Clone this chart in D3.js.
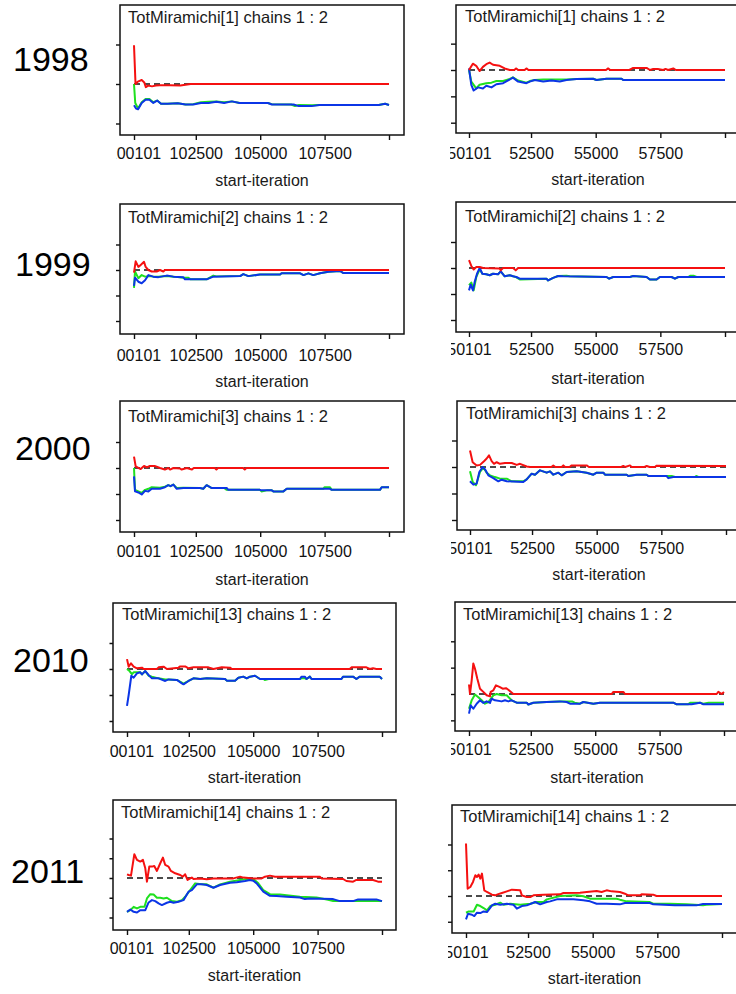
<!DOCTYPE html>
<html>
<head>
<meta charset="utf-8">
<script src="https://cdn.jsdelivr.net/npm/d3@7"></script>
<style>
  body { margin: 0; background: #fff; }
  svg { display: block; }
  text { font-family: Arial, "Liberation Sans", sans-serif; }
</style>
</head>
<body>
<svg id="chart" width="736" height="994"></svg>
<script>
// Brooks-Gelman-Rubin convergence traces for TotMiramichi, two runs per year.
const years = ["1998", "1999", "2000", "2010", "2011"];
const nodeNames = ["TotMiramichi[1]", "TotMiramichi[2]", "TotMiramichi[3]", "TotMiramichi[13]", "TotMiramichi[14]"];
const chainsLabel = "chains 1 : 2";
const xAxisTitle = "start-iteration";

// iteration ranges of the two runs and their tick values
const runA = [100101, 110000];
const runB = [50101, 60000];
const ticksA = [100101, 102500, 105000, 107500, 110000];
const ticksB = [50101, 52500, 55000, 57500, 60000];

// ---- 1998 ----
const r98a = [[100101,1.49],[100160,1.0],[100250,1.03],[100400,1.05],[100500,1.02],[100560,0.96],[100650,0.98],[100800,0.97],[100950,0.98],[101100,0.985],[101500,0.985],[101900,0.98],[102100,0.99],[102300,1.0],[110000,1.0]];
const g98a = [[100101,1.0],[100150,0.76],[100260,0.69],[100400,0.77],[100550,0.81],[100700,0.81],[100850,0.77],[101000,0.79],[101150,0.75],[101400,0.75],[101800,0.755],[102100,0.74],[102400,0.745],[102700,0.77],[103000,0.775],[103300,0.78],[103600,0.77],[103900,0.78],[104200,0.76],[105300,0.76],[105450,0.745],[106200,0.74],[106350,0.72],[106500,0.735],[107000,0.73],[107300,0.735],[109600,0.735],[109850,0.75],[110000,0.735]];
const b98a = [[100101,0.73],[100180,0.69],[100260,0.68],[100400,0.76],[100550,0.80],[100700,0.80],[100850,0.76],[101000,0.79],[101150,0.75],[101400,0.75],[101800,0.755],[102100,0.74],[102400,0.74],[102700,0.76],[103000,0.76],[103300,0.775],[103600,0.76],[103900,0.78],[104200,0.76],[105300,0.76],[105450,0.74],[106300,0.74],[106500,0.72],[107000,0.72],[107300,0.735],[109600,0.735],[109850,0.75],[110000,0.735]];
const r98b = [[50101,1.0],[50250,1.12],[50380,1.08],[50510,0.98],[50640,1.06],[50770,1.11],[50900,1.14],[51030,1.10],[51290,1.08],[51480,1.03],[51680,1.0],[51850,1.0],[51930,1.03],[52000,1.0],[52250,1.0],[52320,1.03],[52400,1.0],[55400,1.0],[55480,1.03],[55560,1.0],[56300,1.0],[56450,1.04],[56967,1.04],[57100,1.0],[57225,1.02],[57400,1.02],[57612,1.0],[57700,1.02],[57800,1.0],[58000,1.03],[58100,1.0],[60000,1.0]];
const g98b = [[50101,1.0],[50190,0.78],[50380,0.65],[50510,0.72],[50770,0.75],[50970,0.76],[51160,0.79],[51420,0.79],[51680,0.83],[51800,0.86],[52000,0.80],[52320,0.76],[52450,0.79],[52640,0.81],[52970,0.82],[53290,0.82],[53610,0.82],[53870,0.82],[54260,0.83],[54900,0.835],[55030,0.81],[55420,0.835],[56000,0.835],[56065,0.81],[60000,0.81]];
const b98b = [[50101,1.03],[50190,0.72],[50280,0.61],[50450,0.67],[50640,0.65],[50770,0.70],[50970,0.67],[51160,0.73],[51420,0.75],[51680,0.82],[51800,0.855],[52000,0.78],[52320,0.75],[52450,0.78],[52640,0.81],[52970,0.78],[53290,0.80],[53610,0.78],[53870,0.81],[54260,0.83],[54900,0.835],[55030,0.81],[55420,0.835],[56000,0.835],[56065,0.81],[60000,0.81]];

// ---- 1999 ----
const r99a = [[100101,0.95],[100166,1.17],[100270,1.06],[100360,1.10],[100490,1.16],[100554,1.06],[100657,1.0],[100787,0.97],[100981,0.97],[101110,1.0],[101240,0.97],[101300,1.0],[110000,1.0]];
const g99a = [[100101,0.65],[100140,0.97],[100270,0.84],[100400,0.90],[100530,0.87],[100660,0.88],[100850,0.87],[101050,0.87],[101370,0.88],[101630,0.87],[102020,0.85],[102200,0.85],[102300,0.817],[102920,0.817],[103180,0.89],[103300,0.875],[104220,0.88],[104345,0.92],[104540,0.88],[104990,0.91],[105770,0.91],[105830,0.935],[106550,0.935],[106680,0.90],[106870,0.935],[107060,0.90],[107320,0.935],[107650,0.967],[108100,0.98],[108230,0.94],[110000,0.94]];
const b99a = [[100101,0.69],[100140,0.85],[100270,0.77],[100400,0.74],[100530,0.80],[100660,0.90],[100850,0.87],[101050,0.86],[101370,0.89],[101630,0.87],[102020,0.856],[102080,0.817],[102920,0.817],[103180,0.87],[104220,0.88],[104345,0.92],[104540,0.88],[104990,0.91],[105770,0.91],[105830,0.935],[106550,0.935],[106680,0.90],[106870,0.935],[107060,0.90],[107320,0.935],[107650,0.967],[108100,0.98],[108230,0.94],[110000,0.94]];
const r99b = [[50101,1.15],[50190,1.04],[50280,0.97],[50385,1.02],[50514,1.02],[50643,1.0],[51288,0.99],[51327,0.955],[51417,1.0],[51805,1.0],[51908,0.955],[51998,1.0],[60000,1.0]];
const g99b = [[50101,0.67],[50191,0.72],[50282,0.57],[50385,0.83],[50514,0.975],[50617,0.89],[50772,0.88],[50901,0.86],[51030,0.89],[51224,0.88],[51327,0.935],[51482,0.84],[51676,0.86],[51805,0.84],[51934,0.82],[52063,0.78],[53096,0.795],[53160,0.76],[53354,0.81],[53547,0.846],[53870,0.85],[54000,0.84],[55418,0.827],[55521,0.795],[55676,0.827],[56321,0.827],[56450,0.846],[56967,0.827],[57096,0.78],[57354,0.78],[57483,0.827],[57935,0.827],[58064,0.795],[58193,0.827],[58580,0.827],[58650,0.85],[58800,0.85],[58900,0.827],[60000,0.827]];
const b99b = [[50101,0.57],[50166,0.68],[50256,0.57],[50320,0.73],[50411,0.89],[50514,1.0],[50617,0.89],[50772,0.88],[50901,0.86],[51030,0.89],[51224,0.88],[51327,0.935],[51482,0.84],[51676,0.86],[51805,0.84],[51934,0.827],[52063,0.795],[53096,0.795],[53160,0.76],[53354,0.81],[53547,0.846],[53741,0.84],[55418,0.827],[55521,0.795],[55676,0.827],[56321,0.827],[56450,0.846],[56967,0.827],[57096,0.78],[57354,0.78],[57483,0.827],[57935,0.827],[58064,0.795],[58193,0.827],[60000,0.827]];

// ---- 2000 ----
const r00a = [[100101,1.22],[100166,1.03],[100360,0.98],[100490,1.04],[100600,1.01],[100720,1.04],[100900,1.04],[101110,1.0],[101300,0.97],[101430,1.0],[101500,0.97],[101630,1.0],[101890,0.99],[101950,0.97],[102150,1.0],[102350,0.97],[102420,1.0],[103240,1.0],[103300,0.97],[103360,1.0],[104340,1.0],[104400,0.97],[104460,1.0],[110000,1.0]];
const g00a = [[100101,1.0],[100140,0.58],[100270,0.55],[100400,0.52],[100530,0.58],[100660,0.60],[100790,0.63],[101110,0.62],[101300,0.64],[101430,0.67],[101520,0.65],[101630,0.68],[101760,0.615],[102020,0.62],[102660,0.615],[102790,0.60],[102920,0.67],[103120,0.615],[103600,0.615],[103700,0.58],[104990,0.58],[105050,0.55],[105250,0.57],[105450,0.57],[105510,0.55],[105900,0.55],[106030,0.60],[107450,0.60],[107500,0.63],[107710,0.63],[107775,0.58],[109650,0.58],[109716,0.63],[110000,0.63]];
const b00a = [[100101,0.84],[100140,0.55],[100270,0.53],[100400,0.49],[100530,0.56],[100660,0.55],[100790,0.60],[101110,0.60],[101300,0.63],[101430,0.67],[101520,0.65],[101630,0.68],[101760,0.60],[102020,0.615],[102660,0.615],[102790,0.60],[102920,0.67],[103120,0.615],[103700,0.615],[103760,0.58],[104990,0.58],[105050,0.57],[105450,0.57],[105510,0.55],[105900,0.55],[106030,0.60],[107710,0.60],[107775,0.58],[109650,0.58],[109716,0.63],[110000,0.63]];
const r00b = [[50101,1.31],[50204,1.09],[50359,1.03],[50488,1.04],[50642,1.11],[50746,1.16],[50836,1.22],[50939,1.11],[51029,1.06],[51132,1.09],[51261,1.06],[51454,1.075],[51712,1.075],[51906,1.04],[52034,1.06],[52292,1.01],[52421,1.0],[53250,1.0],[53323,1.03],[53400,1.0],[53650,1.0],[53710,1.03],[53780,1.0],[53950,1.0],[54032,1.03],[54612,1.03],[54700,1.0],[55950,1.0],[56030,1.02],[56100,1.0],[56288,1.03],[56350,1.0],[56850,1.0],[56933,1.02],[57050,1.0],[57250,1.0],[57319,1.025],[60000,1.02]];
const g00b = [[50101,0.92],[50204,0.72],[50333,0.655],[50488,0.906],[50617,0.99],[50746,0.893],[50875,0.843],[51068,0.81],[51261,0.78],[51519,0.78],[51712,0.73],[52163,0.73],[52292,0.767],[52486,0.874],[52614,0.855],[52808,0.937],[53066,0.893],[53195,0.918],[53323,0.855],[53517,0.893],[53646,0.843],[53839,0.906],[54226,0.918],[54612,0.893],[54870,0.855],[54999,0.893],[55257,0.893],[55321,0.855],[56159,0.855],[56223,0.83],[56546,0.855],[56933,0.855],[56997,0.83],[57706,0.83],[57900,0.83],[58030,0.81],[58800,0.81],[58850,0.83],[58950,0.81],[60000,0.81]];
const b00b = [[50101,0.73],[50230,0.667],[50359,0.686],[50462,0.906],[50591,1.0],[50681,0.956],[50810,0.843],[51003,0.79],[51197,0.73],[51325,0.76],[51519,0.73],[52163,0.717],[52292,0.767],[52486,0.874],[52614,0.855],[52808,0.937],[53066,0.893],[53195,0.918],[53323,0.855],[53517,0.893],[53646,0.843],[53839,0.906],[54226,0.918],[54612,0.893],[54870,0.855],[54999,0.893],[55257,0.893],[55321,0.855],[56159,0.855],[56223,0.83],[56546,0.855],[56933,0.855],[56997,0.83],[57706,0.83],[57770,0.79],[57964,0.81],[60000,0.81]];

// ---- 2010 ----
const r10a = [[100101,1.19],[100166,1.045],[100256,1.11],[100359,1.045],[100488,1.013],[100682,1.026],[100746,1.0],[101263,1.0],[101327,1.032],[101521,1.045],[101650,1.0],[102101,1.026],[102166,1.05],[102360,1.05],[102489,1.013],[102682,1.032],[103263,1.032],[103457,1.0],[103780,1.032],[104102,1.026],[104167,1.0],[108748,1.0],[108813,1.032],[109394,1.032],[109523,1.0],[109652,1.013],[109781,1.0],[110000,1.0]];
const g10a = [[100101,1.0],[100200,0.96],[100290,0.90],[100359,0.936],[100617,0.936],[100682,0.897],[100811,0.96],[100940,0.87],[101069,0.85],[101327,0.82],[101585,0.80],[101714,0.80],[102037,0.79],[102230,0.74],[102295,0.72],[102489,0.77],[102682,0.82],[102940,0.808],[103198,0.82],[103908,0.808],[103973,0.776],[104295,0.776],[104424,0.833],[104618,0.853],[104747,0.82],[104876,0.853],[105070,0.87],[105263,0.808],[105400,0.808],[105450,0.79],[105600,0.808],[106812,0.808],[106877,0.82],[107006,0.82],[107070,0.808],[107200,0.853],[107264,0.808],[108425,0.808],[108490,0.853],[108877,0.853],[109006,0.808],[109135,0.853],[109910,0.853],[110000,0.808]];
const b10a = [[100101,0.29],[100166,0.50],[100269,0.87],[100359,0.833],[100488,0.917],[100617,0.936],[100682,0.897],[100811,0.96],[100940,0.885],[101069,0.82],[101327,0.82],[101585,0.77],[101714,0.80],[102037,0.79],[102230,0.724],[102295,0.705],[102489,0.77],[102682,0.82],[102940,0.808],[103198,0.82],[103908,0.808],[103973,0.776],[104295,0.776],[104424,0.833],[104618,0.853],[104747,0.82],[104876,0.853],[105070,0.87],[105263,0.808],[106812,0.808],[106877,0.853],[107006,0.853],[107070,0.808],[107200,0.853],[107264,0.808],[108425,0.808],[108490,0.853],[108877,0.853],[109006,0.808],[109135,0.853],[109910,0.853],[110000,0.808]];
const r10b = [[50101,1.18],[50140,1.0],[50205,1.26],[50269,1.58],[50334,1.48],[50424,1.29],[50528,1.10],[50657,1.04],[50787,0.975],[50916,0.955],[50942,1.04],[51046,1.07],[51149,1.165],[51304,1.13],[51408,1.10],[51537,1.11],[51628,1.08],[51822,1.0],[55639,1.0],[55704,1.04],[56092,1.04],[56157,1.0],[59715,1.0],[59780,1.04],[59910,1.0],[60000,1.04]];
const g10b = [[50101,0.72],[50205,0.88],[50334,0.99],[50463,0.94],[50593,0.88],[50722,0.816],[50851,0.848],[51046,0.975],[51175,1.0],[51369,0.975],[51563,0.975],[51757,0.88],[51951,0.835],[52340,0.835],[52404,0.80],[52598,0.835],[53116,0.848],[53634,0.86],[54100,0.86],[54200,0.835],[54410,0.816],[54539,0.848],[54927,0.816],[55186,0.835],[58033,0.835],[58162,0.804],[58600,0.804],[58700,0.835],[59068,0.835],[59197,0.815],[59400,0.835],[60000,0.835]];
const b10b = [[50101,0.627],[50166,0.785],[50269,0.72],[50399,0.816],[50528,0.88],[50657,0.83],[50787,0.86],[50916,0.83],[50981,0.91],[51110,0.88],[51369,0.86],[51498,0.88],[51628,0.86],[51757,0.88],[51951,0.835],[52340,0.835],[52404,0.80],[52598,0.835],[53116,0.848],[53634,0.86],[53892,0.848],[54022,0.816],[54410,0.816],[54539,0.848],[54927,0.816],[55186,0.835],[58033,0.835],[58162,0.804],[58744,0.804],[59068,0.835],[59197,0.804],[60000,0.804]];

// ---- 2011 ----
const r11a = [[100101,1.093],[100166,1.076],[100256,1.06],[100385,1.60],[100488,1.458],[100617,1.415],[100720,1.458],[100811,1.246],[100875,0.907],[100966,1.288],[101069,1.288],[101159,1.305],[101263,1.178],[101392,1.373],[101495,1.517],[101585,1.33],[101714,1.288],[101805,1.178],[101972,1.119],[102166,1.076],[102269,1.034],[102360,1.093],[102450,0.95],[102618,1.01],[102682,0.975],[102940,0.99],[103198,0.966],[103457,0.99],[104231,0.99],[104489,1.034],[104618,1.01],[105005,0.99],[105328,0.99],[105457,1.034],[105650,1.06],[105844,1.034],[107586,1.034],[107650,0.99],[108490,0.975],[108619,0.924],[108877,0.907],[109006,0.95],[109652,0.95],[109845,0.907],[110000,0.907]];
const g11a = [[100101,0.144],[100230,0.186],[100359,0.27],[100488,0.229],[100617,0.27],[100780,0.27],[100875,0.483],[101005,0.59],[101134,0.58],[101263,0.5],[101392,0.5],[101521,0.483],[101650,0.5],[101843,0.415],[102037,0.398],[102230,0.44],[102360,0.525],[102553,0.695],[102747,0.864],[103005,0.839],[103198,0.839],[103457,0.754],[103715,0.839],[104102,0.907],[104489,0.949],[104747,0.975],[105005,0.975],[105198,0.864],[105392,0.695],[105650,0.59],[106038,0.58],[106812,0.525],[107457,0.508],[107909,0.449],[108103,0.415],[108877,0.415],[109910,0.415],[110000,0.415]];
const b11a = [[100101,0.144],[100230,0.203],[100359,0.144],[100488,0.127],[100617,0.186],[100811,0.186],[100940,0.381],[101069,0.44],[101198,0.415],[101327,0.356],[101456,0.314],[101650,0.373],[101779,0.398],[101908,0.373],[102101,0.398],[102295,0.44],[102489,0.653],[102618,0.695],[102811,0.839],[103005,0.839],[103198,0.822],[103457,0.754],[103715,0.822],[104102,0.881],[104360,0.89],[104683,0.924],[104876,0.949],[105005,0.932],[105134,0.864],[105392,0.653],[105650,0.55],[105909,0.542],[106296,0.525],[106812,0.508],[107006,0.466],[107200,0.483],[108103,0.466],[108361,0.415],[108877,0.415],[109071,0.458],[109781,0.458],[110000,0.415]];
const r11b = [[50101,2.02],[50165,1.143],[50268,1.175],[50371,1.273],[50461,1.403],[50525,1.37],[50590,1.416],[50654,1.338],[50718,1.435],[50808,1.11],[50911,1.078],[51104,1.026],[51232,1.013],[51322,1.032],[51489,1.058],[51682,1.09],[51875,1.123],[52197,1.11],[52261,1.013],[52454,0.98],[52583,0.98],[52711,1.013],[53097,1.026],[53739,1.032],[53868,1.058],[54511,1.065],[54768,1.078],[55153,1.097],[55346,1.078],[55539,1.11],[55732,1.09],[56053,1.078],[56246,1.045],[56375,1.013],[56825,1.013],[56889,1.032],[57339,1.026],[57468,1.0],[60000,1.0]];
const g11b = [[50101,0.675],[50204,0.70],[50397,0.70],[50525,0.83],[50654,0.805],[50782,0.766],[50911,0.72],[51039,0.805],[51232,0.83],[51425,0.87],[51554,0.83],[51810,0.85],[52197,0.83],[52583,0.85],[52840,0.883],[53097,0.883],[53225,0.935],[53739,1.0],[54382,1.013],[54639,0.994],[54896,0.948],[55925,0.948],[56053,0.929],[56310,0.896],[57210,0.883],[57339,0.85],[57982,0.85],[58625,0.838],[59267,0.818],[59396,0.83],[60000,0.844]];
const b11b = [[50101,0.545],[50178,0.656],[50332,0.636],[50422,0.61],[50525,0.675],[50654,0.669],[50782,0.70],[50911,0.688],[51014,0.753],[51104,0.818],[51232,0.85],[51425,0.83],[51682,0.85],[51939,0.83],[52068,0.753],[52261,0.805],[52454,0.818],[52775,0.883],[52968,0.838],[53225,0.883],[53354,0.896],[53611,0.935],[54254,0.935],[54639,0.916],[54896,0.896],[55153,0.85],[55539,0.85],[56053,0.838],[56246,0.864],[57210,0.864],[57339,0.838],[58175,0.818],[59010,0.818],[59267,0.844],[60000,0.844]];

// Panel placement on the page (frame box, x-range, y reference, clip window)
const panels = [
  {row:0, run:"A", frame:[120,5,404,135], xr:[134,389], y1:84,  k:79,   yt:[0.5,1,1.5],     title:[128,23],  tl:159, at:186, clip:[116,0,420,195],   red:r98a, green:g98a, blue:b98a},
  {row:0, run:"B", frame:[456,5,740,133], xr:[469,725], y1:70,  k:52.7, yt:[0,0.5,1,1.5],   title:[465,22],  tl:159, at:185, clip:[450,0,736,195],   red:r98b, green:g98b, blue:b98b},
  {row:1, run:"A", frame:[120,204,404,334], xr:[134,389], y1:270, k:51, yt:[0,0.5,1,1.5],   title:[128,223], tl:361, at:387, clip:[116,195,420,395], red:r99a, green:g99a, blue:b99a},
  {row:1, run:"B", frame:[456,202,740,332], xr:[469,725], y1:268, k:52, yt:[0,0.5,1,1.5],   title:[465,222], tl:355, at:384, clip:[451,195,736,395], red:r99b, green:g99b, blue:b99b},
  {row:2, run:"A", frame:[120,401,404,532], xr:[134,389], y1:468, k:52, yt:[0,0.5,1,1.5],   title:[128,422], tl:557, at:585, clip:[116,395,420,595], red:r00a, green:g00a, blue:b00a},
  {row:2, run:"B", frame:[457,401,741,530], xr:[470,726], y1:467, k:53, yt:[0,0.5,1,1.5],   title:[466,419], tl:554, at:580, clip:[451,395,736,581], red:r00b, green:g00b, blue:b00b},
  {row:3, run:"A", frame:[113,603,396,732], xr:[127,382], y1:669, k:52, yt:[0,0.5,1,1.5],   title:[122,620], tl:757, at:783, clip:[109.5,595,420,795], red:r10a, green:g10a, blue:b10a},
  {row:3, run:"B", frame:[455,602,739,731], xr:[469,724], y1:694, k:52.7, yt:[0.5,1,1.5,2], title:[463,620], tl:755, at:783, clip:[451,595,736,795], red:r10b, green:g10b, blue:b10b},
  {row:4, run:"A", frame:[113,800,396,930], xr:[127,382], y1:878, k:39.5, yt:[0,0.5,1,1.5,2], title:[121,818], tl:954, at:981, clip:[109.5,795,420,994], red:r11a, green:g11a, blue:b11a},
  {row:4, run:"B", frame:[452,805,737,933], xr:[466,722], y1:896, k:51.5, yt:[0.5,1,1.5,2], title:[460,822], tl:958, at:984, clip:[448,795,736,994], red:r11b, green:g11b, blue:b11b}
];
const yearPos = [[13,71],[15,276],[15,460],[13,672],[11,883]];

const colors = { red: "#f51010", green: "#1fe01f", blue: "#0b35e6" };

const svg = d3.select("#chart");
const defs = svg.append("defs");

panels.forEach((p, i) => {
  const [fx0, fy0, fx1, fy1] = p.frame;
  const dom = p.run === "A" ? runA : runB;
  const tickVals = p.run === "A" ? ticksA : ticksB;

  defs.append("clipPath").attr("id", "crop" + i)
    .append("rect")
    .attr("x", p.clip[0]).attr("y", p.clip[1])
    .attr("width", p.clip[2] - p.clip[0]).attr("height", p.clip[3] - p.clip[1]);
  defs.append("clipPath").attr("id", "plot" + i)
    .append("rect")
    .attr("x", fx0).attr("y", fy0).attr("width", fx1 - fx0).attr("height", fy1 - fy0);

  const g = svg.append("g").attr("clip-path", `url(#crop${i})`);

  const x = d3.scaleLinear().domain(dom).range(p.xr);
  const y = d3.scaleLinear().domain([1, 2]).range([p.y1, p.y1 - p.k]);

  // x axis (ticks hang below the frame)
  const xAxis = d3.axisBottom(x)
    .tickValues(tickVals)
    .tickSize(5)
    .tickSizeOuter(0)
    .tickFormat(d => d === dom[1] ? "" : String(d));
  const xg = g.append("g").attr("transform", `translate(0,${fy1})`).call(xAxis);
  xg.select(".domain").remove();
  xg.selectAll(".tick line").attr("stroke", "#111").attr("stroke-width", 1.4);
  xg.selectAll(".tick text")
    .attr("y", p.tl - fy1).attr("dy", null)
    .attr("fill", "#111")
    .style("font-size", "16px");

  // y axis ticks (labels lie outside the visible window)
  const yAxis = d3.axisLeft(y).tickValues(p.yt).tickSize(5).tickSizeOuter(0).tickFormat("");
  const yg = g.append("g").attr("transform", `translate(${fx0},0)`).call(yAxis);
  yg.select(".domain").remove();
  yg.selectAll(".tick line").attr("stroke", "#111").attr("stroke-width", 1.4);

  const plot = g.append("g").attr("clip-path", `url(#plot${i})`);

  // reference line at ratio 1
  plot.append("line")
    .attr("x1", x(dom[0])).attr("x2", x(dom[1]))
    .attr("y1", y(1)).attr("y2", y(1))
    .attr("stroke", "#111").attr("stroke-width", 1.4)
    .attr("stroke-dasharray", "6,4");

  const line = d3.line().x(d => x(d[0])).y(d => y(d[1]));
  [["green", p.green], ["blue", p.blue], ["red", p.red]].forEach(([c, data]) => {
    plot.append("path")
      .datum(data)
      .attr("d", line)
      .attr("fill", "none")
      .attr("stroke", colors[c])
      .attr("stroke-width", 2)
      .attr("stroke-linejoin", "round");
  });

  // frame
  g.append("rect")
    .attr("x", fx0).attr("y", fy0)
    .attr("width", fx1 - fx0).attr("height", fy1 - fy0)
    .attr("fill", "none").attr("stroke", "#111").attr("stroke-width", 1.5);

  // panel title
  g.append("text")
    .attr("x", p.title[0]).attr("y", p.title[1])
    .attr("fill", "#1a1a1a")
    .style("font-size", "16.5px")
    .text(`${nodeNames[p.row]} ${chainsLabel}`);

  // axis title
  g.append("text")
    .attr("x", (fx0 + fx1) / 2).attr("y", p.at)
    .attr("text-anchor", "middle")
    .attr("fill", "#1a1a1a")
    .style("font-size", "16px")
    .text(xAxisTitle);
});

// year labels
svg.selectAll("text.year")
  .data(years)
  .join("text")
  .attr("class", "year")
  .attr("x", (d, i) => yearPos[i][0])
  .attr("y", (d, i) => yearPos[i][1])
  .attr("fill", "#000")
  .style("font-size", "34px")
  .text(d => d);
</script>
</body>
</html>
